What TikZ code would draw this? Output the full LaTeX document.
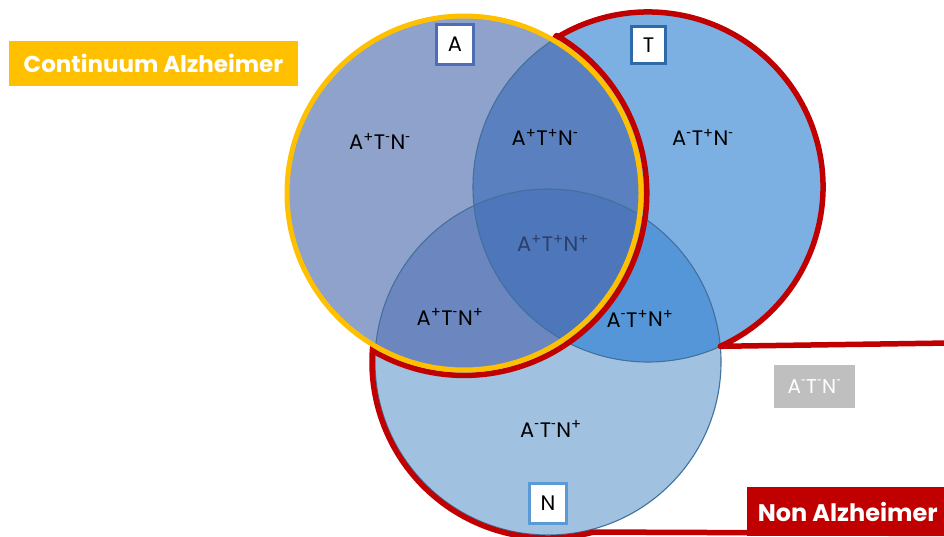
\documentclass[tikz,border=0pt]{standalone}
\usepackage{fontspec}
\usepackage{graphicx}
\setmainfont{Poppins}
\newcommand\supP{\textsuperscript{+}}
\newcommand\supM{\textsuperscript{\scalebox{0.6}[1]{-}}}
\definecolor{cAonly}{HTML}{8FA2CB}
\definecolor{cTonly}{HTML}{7DB0E2}
\definecolor{cNonly}{HTML}{A0C2E0}
\definecolor{cAT}{HTML}{5A80C0}
\definecolor{cAN}{HTML}{6C87C0}
\definecolor{cATN}{HTML}{4E76BA}
\definecolor{cTN}{HTML}{5596D8}
\definecolor{outlc}{HTML}{41719C}
\definecolor{redc}{HTML}{C00000}
\definecolor{yellowc}{HTML}{FFC000}
\definecolor{grayc}{HTML}{BFBFBF}
\definecolor{darkc}{HTML}{2B3F6B}
\definecolor{boxA}{HTML}{4F6DB5}
\definecolor{boxT}{HTML}{2E6AA8}
\definecolor{boxN}{HTML}{5B9BD5}
\begin{document}
\begin{tikzpicture}[x=1pt,y=1pt,
  lbl/.style={font=\fontsize{21}{24}\selectfont, text=black, inner sep=0, anchor=base},
  letterbox/.style={draw, line width=2.5pt, fill=white, inner sep=0,
    font=\fontsize{21}{24}\selectfont},
  outl/.style={draw=outlc, line width=1.1pt},
  tagbox/.style={inner sep=0, text=white, font=\bfseries\fontsize{23}{26}\selectfont}]
\useasboundingbox (0,0) rectangle (944,536);
\def\rA{178}\def\rT{175}\def\rN{173}
\coordinate (cA) at (464,343);
\coordinate (cT) at (648,349);
\coordinate (cN) at (548,174);
% base fills
\fill[cAonly] (cA) circle[radius=\rA];
\fill[cTonly] (cT) circle[radius=\rT];
\fill[cNonly] (cN) circle[radius=\rN];
\begin{scope}
  \clip (cT) circle[radius=\rT];
  \fill[cTN] (cN) circle[radius=\rN];
\end{scope}
\begin{scope}
  \clip (cA) circle[radius=\rA];
  \fill[cAT] (cT) circle[radius=\rT];
  \fill[cAN] (cN) circle[radius=\rN];
  \clip (cT) circle[radius=\rT];
  \fill[cATN] (cN) circle[radius=\rN];
\end{scope}
% thin outlines
\draw[outl] (cA) circle[radius=\rA];
\draw[outl] (cT) circle[radius=\rT];
\draw[outl] (cN) circle[radius=\rN];
% red outline (Non Alzheimer)
\coordinate (redTop) at (950,193);
\coordinate (redBot) at (950,2.5);
\draw[redc, line width=5.5pt, line join=round]
  (redTop) -- (720.3,189.7) arc[start angle=-65.6, end angle=122.5, radius=\rT]
  -- (556.6,500.5) arc[start angle=59.6, end angle=-119.8, radius=182.5]
  -- (372.6,188.7) arc[start angle=175.2, end angle=285, radius=176]
  -- (redBot);
% yellow outline (Continuum Alzheimer)
\draw[yellowc, line width=5pt] (cA) circle[radius=\rA-1];
% region labels
\node[lbl] (l1) at (380,386) {A\supP T\supM N\supM};
\node[lbl] (l2) at (545,390) {A\supP T\supP N\supM};
\node[lbl] (l3) at (703,390) {A\supM T\supP N\supM};
\node[lbl, text=darkc] (l4) at (553,284) {A\supP T\supP N\supP};
\node[lbl] (l5) at (450,211) {A\supP T\supM N\supP};
\node[lbl] (l6) at (640,209) {A\supM T\supP N\supP};
\node[lbl] (l7) at (551,99) {A\supM T\supM N\supP};
% letter boxes
\node[letterbox, draw=boxA, minimum width=37pt, minimum height=40pt] (bA) at (455,491.5) {A};
\node[letterbox, draw=boxT, minimum width=34pt, minimum height=37pt] (bT) at (648.5,491) {T};
\node[letterbox, draw=boxN, minimum width=37pt, minimum height=40pt] (bN) at (548,32.5) {N};
% tags
\node[tagbox, fill=yellowc, minimum width=289pt, minimum height=45pt] (tagC) at (153.5,472.5) {Continuum Alzheimer};
\node[tagbox, fill=redc, minimum width=197pt, minimum height=49pt, anchor=west,
  font=\bfseries\fontsize{24}{26}\selectfont] (tagN) at (747,24.5) {\hspace*{4pt}Non Alzheimer};
\node[inner sep=0, fill=grayc, text=white, minimum width=81pt, minimum height=43pt,
  font=\fontsize{20}{24}\selectfont] (tagG) at (814.5,149.5) {A\supM T\supM N\supM};
\end{tikzpicture}
\end{document}
